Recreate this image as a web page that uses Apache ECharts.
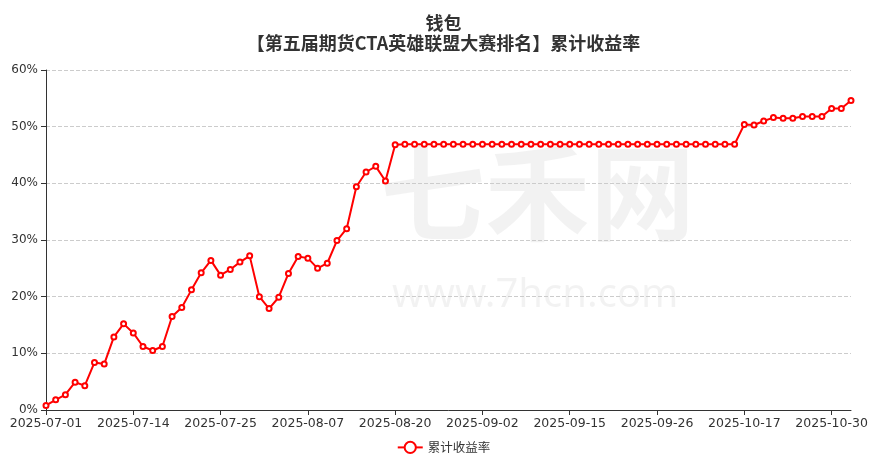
<!DOCTYPE html>
<html>
<head>
<meta charset="utf-8">
<script src="https://cdn.jsdelivr.net/npm/echarts@6/dist/echarts.min.js"></script>
<style>html,body{margin:0;padding:0;background:#fff}#c{width:887px;height:464px}</style>
</head>
<body>
<div id="c"></div>
<script>
var dates = [
'2025-07-01','2025-07-02','2025-07-03','2025-07-04','2025-07-07','2025-07-08','2025-07-09','2025-07-10','2025-07-11',
'2025-07-14','2025-07-15','2025-07-16','2025-07-17','2025-07-18','2025-07-21','2025-07-22','2025-07-23','2025-07-24',
'2025-07-25','2025-07-28','2025-07-29','2025-07-30','2025-07-31','2025-08-01','2025-08-04','2025-08-05','2025-08-06',
'2025-08-07','2025-08-08','2025-08-11','2025-08-12','2025-08-13','2025-08-14','2025-08-15','2025-08-18','2025-08-19',
'2025-08-20','2025-08-21','2025-08-22','2025-08-25','2025-08-26','2025-08-27','2025-08-28','2025-08-29','2025-09-01',
'2025-09-02','2025-09-03','2025-09-04','2025-09-05','2025-09-08','2025-09-09','2025-09-10','2025-09-11','2025-09-12',
'2025-09-15','2025-09-16','2025-09-17','2025-09-18','2025-09-19','2025-09-22','2025-09-23','2025-09-24','2025-09-25',
'2025-09-26','2025-09-29','2025-09-30','2025-10-09','2025-10-10','2025-10-13','2025-10-14','2025-10-15','2025-10-16',
'2025-10-17','2025-10-20','2025-10-21','2025-10-22','2025-10-23','2025-10-24','2025-10-27','2025-10-28','2025-10-29',
'2025-10-30','2025-10-31','2025-11-03'
];
var returns = [
0.8,1.8,2.7,4.9,4.3,8.4,8.1,12.9,15.2,
13.6,11.2,10.5,11.2,16.5,18.1,21.2,24.2,26.4,
23.8,24.8,26.1,27.2,20.0,17.9,19.9,24.1,27.1,
26.8,25.0,25.9,29.9,32.0,39.4,42.0,43.0,40.4,
46.8,46.9,46.9,46.9,46.9,46.9,46.9,46.9,46.9,
46.9,46.9,46.9,46.9,46.9,46.9,46.9,46.9,46.9,
46.9,46.9,46.9,46.9,46.9,46.9,46.9,46.9,46.9,
46.9,46.9,46.9,46.9,46.9,46.9,46.9,46.9,46.9,
50.4,50.3,51.0,51.6,51.5,51.5,51.8,51.8,51.8,
53.2,53.2,54.6
];
var titleText = '钱包\n【第五届期货CTA英雄联盟大赛排名】累计收益率';
var seriesName = '累计收益率';

var chart = echarts.init(document.getElementById('c'));
chart.setOption({
  animation: false,
  title: {
    text: titleText,
    left: 'center',
    top: 13,
    padding: [0, 0, 0, 14],
    textStyle: {fontFamily: 'Noto Sans CJK SC', fontSize: 18, fontWeight: 'bold', color: '#333', lineHeight: 20}
  },
  graphic: [
    {type: 'text', left: 380, top: 140, style: {text: '七禾网', fontSize: 105, fontWeight: 'bold', fontFamily: 'Noto Sans CJK SC', fill: 'rgba(0,0,0,0.05)'}, z: -10},
    {type: 'text', left: 392, top: 276, style: {text: 'www.7hcn.com', fontSize: 40, fontFamily: 'Noto Sans', fill: 'rgba(0,0,0,0.05)'}, z: -10}
  ],
  legend: {
    bottom: 5,
    left: 'center',
    itemWidth: 25,
    itemHeight: 14,
    textStyle: {fontFamily: 'Noto Sans CJK SC', fontSize: 12.5, color: '#333'},
    data: [seriesName]
  },
  grid: {left: 46, right: 36, top: 70, bottom: 54},
  xAxis: {
    type: 'category',
    boundaryGap: false,
    data: dates,
    axisLine: {lineStyle: {color: '#333'}},
    axisTick: {interval: 8, lineStyle: {color: '#333'}},
    axisLabel: {interval: 8, color: '#333', fontSize: 12.5, fontFamily: 'DejaVu Sans', margin: 7}
  },
  yAxis: {
    type: 'value',
    min: 0, max: 60, interval: 10,
    axisLine: {show: true, lineStyle: {color: '#333'}},
    axisTick: {show: true, lineStyle: {color: '#333'}},
    axisLabel: {formatter: '{value}%', color: '#333', fontSize: 12, fontFamily: 'DejaVu Sans'},
    splitLine: {lineStyle: {type: 'dashed', color: '#ccc'}}
  },
  series: [{
    name: seriesName,
    type: 'line',
    data: returns,
    symbol: 'emptyCircle',
    symbolSize: 5,
    itemStyle: {color: '#ff0000'},
    lineStyle: {color: '#ff0000', width: 2}
  }]
});
</script>
</body>
</html>
